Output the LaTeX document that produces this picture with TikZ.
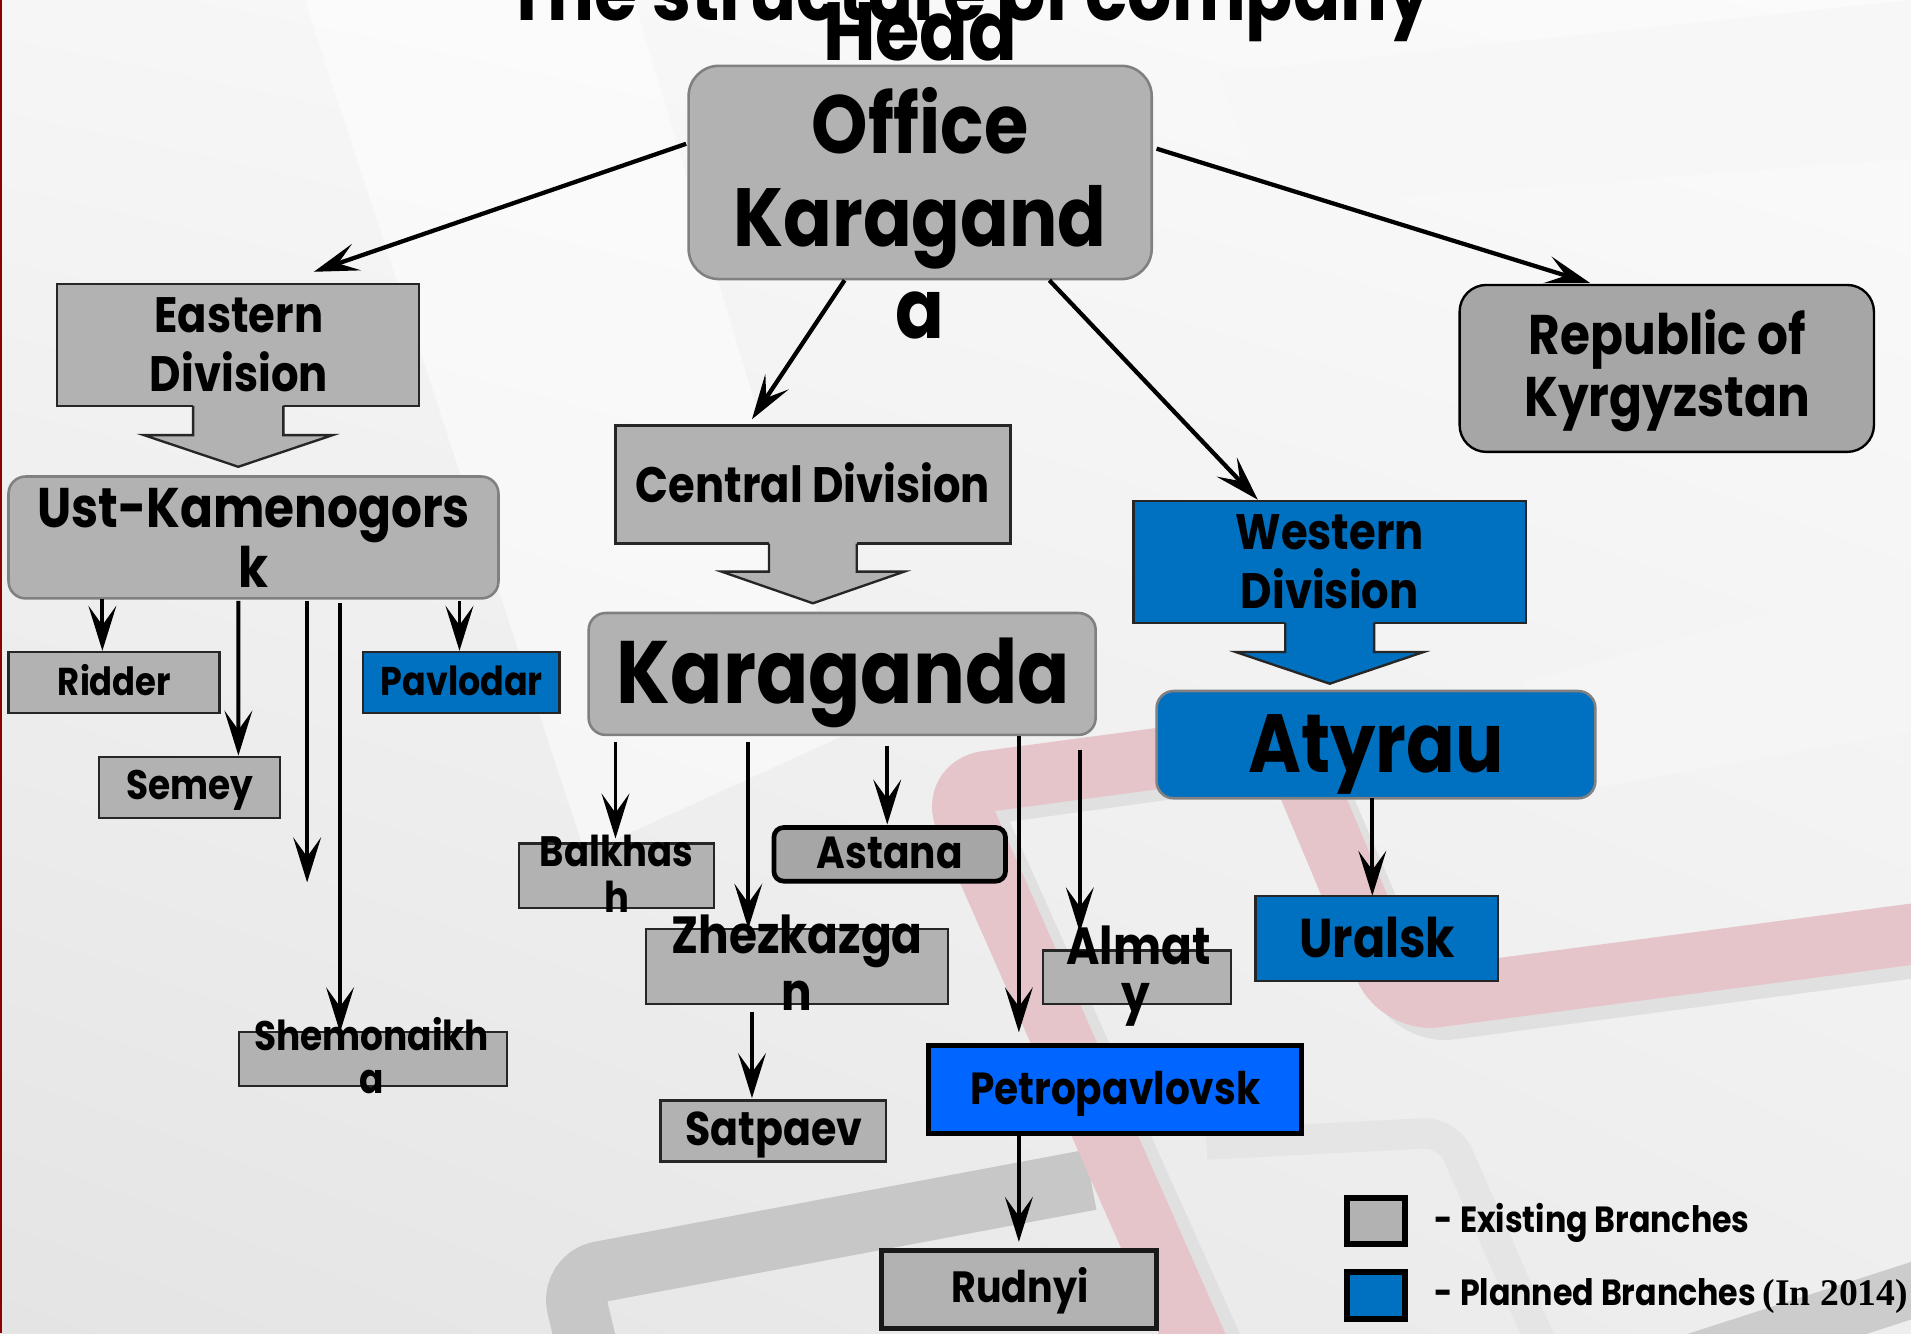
\documentclass[tikz,border=0pt]{standalone}
\usepackage{fontspec}
\setmainfont{Poppins}[FakeStretch=0.87]
\newfontfamily\tnr{Liberation Serif}
\usetikzlibrary{calc,arrows.meta,shadings}
\definecolor{boxgray}{HTML}{B2B2B2}
\definecolor{repgray}{HTML}{A6A6A6}
\definecolor{pblue}{HTML}{0070C0}
\definecolor{bblue}{HTML}{0066FF}
\definecolor{rimgray}{HTML}{808080}
\definecolor{pinkbg}{RGB}{229,197,201}
\definecolor{bgA}{HTML}{F6F6F6}
\definecolor{bgB}{HTML}{FBFBFB}
\definecolor{bgC}{HTML}{E4E4E4}
\definecolor{bgD}{HTML}{EEEEEE}
\newcommand\fpx[1]{\pgfmathsetmacro\fpxv{#1*0.5669}\fontsize{\fpxv pt}{\fpxv pt}\selectfont}
\newcommand\downcallout[6]{%
  \fill[#6] ($(#1.south)+(-#2,-3)$) -- ($(#1.south)+(#2,-3)$) -- ($(#1.south)+(#2,#4)$) -- ($(#1.south)+(#3,#4)$) -- ($(#1.south)+(0,#4+#5)$) -- ($(#1.south)+(-#3,#4)$) -- ($(#1.south)+(-#2,#4)$) -- cycle;
  \draw[outline] ($(#1.south)+(-#2,0)$) -- ($(#1.south)+(-#2,#4)$) -- ($(#1.south)+(-#3,#4)$) -- ($(#1.south)+(0,#4+#5)$) -- ($(#1.south)+(#3,#4)$) -- ($(#1.south)+(#2,#4)$) -- ($(#1.south)+(#2,0)$);
}
\tikzset{
  wh/.style 2 args={minimum width=#1*0.02cm, minimum height=#2*0.02cm, inner sep=0pt, outer sep=0pt},
  outline/.style={draw=black!85, line width=1.1pt, line join=miter},
  sqbox/.style={draw=black!85, fill=boxgray, line width=1.1pt},
  bluebox/.style={draw=black!85, fill=pblue, line width=1.1pt},
  rbox/.style={draw=rimgray, fill=boxgray, line width=1.2pt},
  txt/.style={anchor=base, inner sep=0pt, font=\bfseries\fpx{#1}},
  arr/.style={line width=1.8pt, -{Stealth[length=21pt,width=13pt,inset=9pt]}},
  harr/.style={line width=2pt, -{Stealth[length=21pt,width=13pt,inset=9pt]}},
}
\begin{document}
\begin{tikzpicture}[x=0.02cm,y=-0.02cm]
\useasboundingbox (0,0) rectangle (1568,1094);
% background
\shade[upper left=bgA, upper right=bgB, lower left=bgC, lower right=bgD] (0,0) rectangle (1568,1094);
\fill[white, opacity=0.5] (250,0) -- (520,0) -- (700,600) -- (480,700) -- cycle;
\fill[black!3] (1000,60) -- (1568,0) -- (1568,130) -- (1040,170) -- cycle;
\fill[black!4] (1250,560) -- (1568,470) -- (1568,600) -- (1290,650) -- cycle;
\draw[line width=1.0cm, black!22, rounded corners=0.5cm] (485,1120) -- (468,1048) -- (895,968);
\draw[line width=0.9cm, black!20] (1385,1118) -- (1590,1052);
\draw[line width=0.5cm, black!10, rounded corners=0.4cm] (990,939) -- (1188,929) -- (1268,1110);
\draw[line width=1.0cm, black!12, rounded corners=0.6cm] (997,1110) -- (792,654) -- (1067,616) -- (1160,832) -- (1590,775);
\draw[line width=1.0cm, pinkbg, rounded corners=0.6cm] (985,1110) -- (780,645) -- (1058,608) -- (1148,822) -- (1580,765);
\fill[red!55!black] (0,0) rectangle (2,1094);
% title
\node[txt=66] (title) at (795,17) {The structure of company};
% head office
\node[rbox, rounded corners=0.5cm, wh={380}{175}] (ho) at (755,141.5) {};
\node[txt=68] (ho1) at (755,50) {Head};
\node[txt=68] (ho2) at (755,126) {Office};
\node[txt=68] (ho3) at (755,202) {Karagand};
\node[txt=68] (ho4) at (755,278) {a};
% eastern
\node[sqbox, wh={297}{100}] (east) at (195.5,283) {};
\downcallout{east}{37}{77.5}{24}{26}{boxgray}
\node[txt=41] (east1) at (196,273) {Eastern};
\node[txt=41] (east2) at (196,321) {Division};
% central
\node[sqbox, wh={324}{97}] (central) at (667,397.5) {};
\downcallout{central}{36}{75}{23}{26}{boxgray}
\node[txt=41] (central1) at (667,412) {Central Division};
% western
\node[bluebox, wh={322}{100}] (west) at (1091,461) {};
\downcallout{west}{36.5}{77}{24}{26}{pblue}
\node[txt=41] (west1) at (1091,451) {Western};
\node[txt=41] (west2) at (1091,499) {Division};
% republic
\node[draw=black, fill=repgray, line width=1.1pt, rounded corners=0.44cm, wh={340}{137}] (rep) at (1367.6,302.3) {};
\node[txt=46] (rep1) at (1368,291) {Republic of};
\node[txt=46] (rep2) at (1368,342) {Kyrgyzstan};
% ust
\node[rbox, rounded corners=0.28cm, wh={402}{100}] (ust) at (208,441) {};
\node[txt=46] (ust1) at (208,433) {Ust-Kamenogors};
\node[txt=46] (ust2) at (208,482) {k};
\node[sqbox, wh={173}{50}] (ridder) at (93.5,560) {};
\node[txt=32] (ridder1) at (94,571) {Ridder};
\node[bluebox, wh={161}{50}] (pav) at (378.5,560) {};
\node[txt=33] (pav1) at (379,571) {Pavlodar};
\node[sqbox, wh={149}{50}] (semey) at (155.5,646) {};
\node[txt=34] (semey1) at (156,656) {Semey};
\node[sqbox, wh={220}{44}] (shem) at (306,869) {};
\node[txt=34] (shem1) at (305,862) {Shemonaikh};
\node[txt=34] (shem2) at (305,897) {a};
\coordinate (dang) at (252,724);
% karaganda
\node[rbox, rounded corners=0.28cm, wh={416}{100}] (kar) at (691,553) {};
\node[txt=73] (kar1) at (692,577) {Karaganda};
\node[sqbox, wh={160}{53}] (balk) at (506,718.5) {};
\node[txt=35] (balk1) at (506,711) {Balkhas};
\node[txt=35] (balk2) at (506,749) {h};
\node[draw=black, fill=repgray, line width=2.2pt, rounded corners=0.16cm, wh={190}{44}] (astana) at (730,701) {};
\node[txt=37] (astana1) at (730,713) {Astana};
\node[sqbox, wh={248}{62}] (zhez) at (654,793) {};
\node[txt=43] (zhez1) at (654,782) {Zhezkazga};
\node[txt=43] (zhez2) at (654,829) {n};
\node[sqbox, wh={154}{44}] (almaty) at (933,802) {};
\node[txt=43] (almaty1) at (934,791) {Almat};
\node[txt=43] (almaty2) at (932,831) {y};
\node[sqbox, wh={185}{50}] (satp) at (634.5,928) {};
\node[txt=39] (satp1) at (635,940) {Satpaev};
\node[draw=black, fill=bblue, line width=2.6pt, wh={306}{72}] (petro) at (915,894) {};
\node[txt=37] (petro1) at (915,906) {Petropavlovsk};
\node[draw=black!90, fill=boxgray, line width=2.3pt, wh={226}{64}] (rud) at (836,1058) {};
\node[txt=36] (rud1) at (837,1069) {Rudnyi};
% atyrau
\node[draw=rimgray, fill=pblue, line width=1.2pt, rounded corners=0.28cm, wh={360}{88}] (aty) at (1129,611) {};
\node[txt=68] (aty1) at (1129,634) {Atyrau};
\node[bluebox, wh={199}{70}] (ural) at (1129.5,770) {};
\node[txt=45] (ural1) at (1130,786) {Uralsk};
% legend
\node[draw=black, fill=boxgray, line width=2.8pt, wh={48}{38}] (leg1) at (1129,1002) {};
\node[draw=black, fill=pblue, line width=2.8pt, wh={48}{38}] (leg2) at (1129,1063) {};
\node[txt=30, anchor=base west] (leg1t) at (1177,1011) {- Existing Branches};
\node[txt=30, anchor=base west] (leg2t) at (1177,1071) {- Planned Branches {\tnr\fpx{31}(In 2014)}};
% head arrows
\draw[harr] ($(ho.west)+(-2,-23.5)$) -- ($(east.north)+(62,-10)$);
\draw[harr] ($(ho.east)+(4,-19.5)$) -- ($(rep.north)+(-62.6,-1.4)$);
\draw[harr] ($(ho.south)+(-62,1)$) -- ($(central.north)+(-50,-5)$);
\draw[harr] ($(ho.south)+(106,1)$) -- ($(west.north)+(-59,-1)$);
% ust arrows
\draw[arr] ($(ust.south)+(-124,0.5)$) -- ($(ridder.north)+(-9.5,-1)$);
\draw[arr] ($(ust.south)+(-12.4,2)$) -- ($(semey.north)+(40.1,-1)$);
\draw[arr] ($(ust.south)+(44,2)$) -- (dang);
\draw[arr] ($(ust.south)+(71,4)$) -- ($(shem.north)+(-27,0)$);
\draw[arr] ($(ust.south)+(169,2)$) -- ($(pav.north)+(-1.5,-1)$);
% karaganda arrows
\draw[arr] ($(kar.south)+(-186,6)$) -- ($(balk.north)+(-1,-4)$);
\draw[arr] ($(kar.south)+(-77,6)$) -- ($(zhez.north)+(-40,0)$);
\draw[arr] ($(kar.south)+(37,9)$) -- ($(astana.north)+(-2,-2.5)$);
\draw[arr] ($(kar.south)+(145,0.6)$) -- ($(petro.north)+(-79,-11)$);
\draw[arr] ($(kar.south)+(195,12)$) -- ($(almaty.north)+(-47,-15)$);
\draw[arr] ($(zhez.south)+(-37,6)$) -- ($(satp.north)+(-17.5,-2)$);
\draw[arr] ($(petro.south)+(-79,1)$) -- ($(rud.north)+(0,-7)$);
\draw[arr] ($(aty.south)+(-3,0)$) -- ($(ural.north)+(-3.5,0)$);
\end{tikzpicture}
\end{document}
